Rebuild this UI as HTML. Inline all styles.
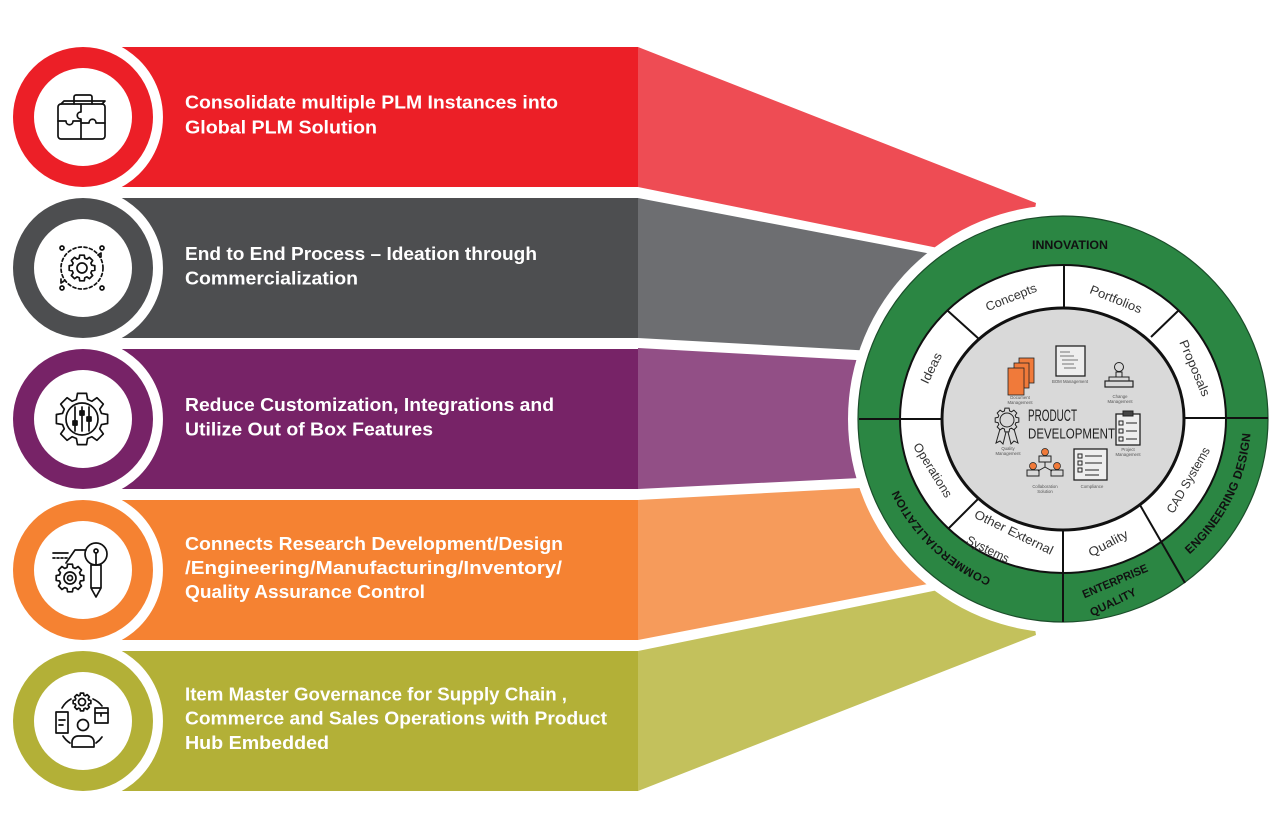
<!DOCTYPE html>
<html><head><meta charset="utf-8"><style>
html,body{margin:0;padding:0;background:#fff;}
svg{display:block;}
.bt{font-family:"Liberation Sans",sans-serif;font-weight:bold;font-size:18px;fill:#fff;}
.wr{font-family:"Liberation Sans",sans-serif;font-size:12.5px;fill:#333;}
.gr{font-family:"Liberation Sans",sans-serif;font-weight:bold;font-size:11.5px;fill:#111;}
.tl{font-family:"Liberation Sans",sans-serif;font-size:4.3px;fill:#555;}
</style></head><body>
<svg width="1280" height="838" viewBox="0 0 1280 838" xmlns="http://www.w3.org/2000/svg">
<defs>
<path id="gear" vector-effect="non-scaling-stroke" d="M0.750,-0.215 L0.985,-0.174 L0.985,0.174 L0.750,0.215 L0.682,0.378 L0.819,0.574 L0.574,0.819 L0.378,0.682 L0.215,0.750 L0.174,0.985 L-0.174,0.985 L-0.215,0.750 L-0.378,0.682 L-0.574,0.819 L-0.819,0.574 L-0.682,0.378 L-0.750,0.215 L-0.985,0.174 L-0.985,-0.174 L-0.750,-0.215 L-0.682,-0.378 L-0.819,-0.574 L-0.574,-0.819 L-0.378,-0.682 L-0.215,-0.750 L-0.174,-0.985 L0.174,-0.985 L0.215,-0.750 L0.378,-0.682 L0.574,-0.819 L0.819,-0.574 L0.682,-0.378 Z"/>
<path id="engPath" d="M1157,577.5 A188,183 0 0 0 1249.2,393.5"/>
<path id="comPath" d="M1031.7,590.4 A180,174 0 0 1 885.7,449.2"/>
</defs>

<!-- light connector shapes -->
<polygon points="638,47 1036,203 1030,240 960,252.5 638,187" fill="#EE4C54"/>
<polygon points="638,198 1000,267 1000,358 638,338" fill="#6D6E71"/>
<polygon points="638,348 1000,368 1000,471 638,489" fill="#924F86"/>
<polygon points="638,500 1000,480.4 1000,570 638,640" fill="#F69B5B"/>
<polygon points="638,791 1036,635 1030,598 960,585.5 638,651" fill="#C3C15C"/>

<!-- dark bands -->
<path d="M121.7,47 L638,47 L638,187 L121.7,187 A80,80 0 0 0 121.7,47 Z" fill="#EC1F27"/>
<path d="M121.7,198 L638,198 L638,338 L121.7,338 A80,80 0 0 0 121.7,198 Z" fill="#4D4E50"/>
<path d="M121.7,349 L638,349 L638,489 L121.7,489 A80,80 0 0 0 121.7,349 Z" fill="#772367"/>
<path d="M121.7,500 L638,500 L638,640 L121.7,640 A80,80 0 0 0 121.7,500 Z" fill="#F58232"/>
<path d="M121.7,651 L638,651 L638,791 L121.7,791 A80,80 0 0 0 121.7,651 Z" fill="#B3B037"/>

<!-- circles -->
<circle cx="83" cy="117" r="70" fill="#EC1F27"/><circle cx="83" cy="117" r="49" fill="#fff"/>
<circle cx="83" cy="268" r="70" fill="#4D4E50"/><circle cx="83" cy="268" r="49" fill="#fff"/>
<circle cx="83" cy="419" r="70" fill="#772367"/><circle cx="83" cy="419" r="49" fill="#fff"/>
<circle cx="83" cy="570" r="70" fill="#F58232"/><circle cx="83" cy="570" r="49" fill="#fff"/>
<circle cx="83" cy="721" r="70" fill="#B3B037"/><circle cx="83" cy="721" r="49" fill="#fff"/>

<!-- icons -->
<g stroke="#111" stroke-width="1.7" fill="none" stroke-linejoin="round" stroke-linecap="round">
 <!-- 1 briefcase puzzle -->
 <path d="M74,104 v-7 a2,2 0 0 1 2,-2 h14 a2,2 0 0 1 2,2 v7"/>
 <rect x="58" y="104" width="47" height="35" rx="3"/>
 <path d="M61,104 l3,-3 h41 l-3,3"/>
 <path d="M81,104 v8 c-5,0 -5,7 0,7 v20"/>
 <path d="M58,121 h8 c0,5 7,5 7,0 h8 M81,123 h8 c0,-5 7,-5 7,0 h9"/>
 <!-- 2 gear cycle -->
 <use href="#gear" transform="translate(82,268) scale(13)"/>
 <circle cx="82" cy="268" r="5"/>
 <circle cx="82" cy="268" r="21" stroke-dasharray="3 2.6"/>
 <path d="M98,255 l3,-2 l0,4 M64,281 l-3,2 l0,-4"/>
 <circle cx="62" cy="248" r="2"/><circle cx="102" cy="248" r="2"/>
 <circle cx="62" cy="288" r="2"/><circle cx="102" cy="288" r="2"/>
 <!-- 3 gear sliders -->
 <use href="#gear" transform="translate(82,419) scale(26)"/>
 <circle cx="82" cy="419" r="16"/>
 <path d="M75,407 v24 M82,407 v24 M89,407 v24"/>
 <rect x="73" y="421" width="4" height="4" fill="#111"/>
 <rect x="80" y="411" width="4" height="4" fill="#111"/>
 <rect x="87" y="417" width="4" height="4" fill="#111"/>
 <!-- 4 gear bulb pen -->
 <use href="#gear" transform="translate(70,578) scale(14)"/>
 <circle cx="70" cy="578" r="6"/><circle cx="70" cy="578" r="2.5"/>
 <circle cx="96" cy="554" r="11"/>
 <circle cx="96" cy="551" r="2"/><path d="M96,553 v11"/>
 <path d="M91,565 V588 L96,597 L101,588 V565 Z M91,588 H101"/>
 <path d="M53,553 H68 M53,558 h2 M57,558 h2 M61,558 h2 M65,558 h2"/>
 <path d="M66,563 L75,550 H86"/>
 <!-- 5 person gear boxes -->
 <use href="#gear" transform="translate(82,702) scale(9)"/>
 <circle cx="82" cy="702" r="3.5"/>
 <circle cx="83" cy="725" r="5.5"/>
 <path d="M72,747 v-5 a6,6 0 0 1 6,-6 h10 a6,6 0 0 1 6,6 v5 Z"/>
 <rect x="56" y="712" width="12" height="21"/>
 <path d="M59,720 h6 M59,725 h4"/>
 <rect x="95" y="708" width="13" height="15"/>
 <path d="M95,713 h13 M101,713 v3"/>
 <path d="M62,708 A22,22 0 0 1 71,699 M93,699 A22,22 0 0 1 102,706 M63,736 A22,22 0 0 0 70,743 M96,743 A22,22 0 0 0 102,737"/>
</g>

<!-- band texts -->
<text class="bt" x="185" y="108.5" textLength="373" lengthAdjust="spacingAndGlyphs">Consolidate multiple PLM Instances into</text>
<text class="bt" x="185" y="133.5" textLength="192" lengthAdjust="spacingAndGlyphs">Global PLM Solution</text>
<text class="bt" x="185" y="260" textLength="352" lengthAdjust="spacingAndGlyphs">End to End Process – Ideation through</text>
<text class="bt" x="185" y="284.5" textLength="173" lengthAdjust="spacingAndGlyphs">Commercialization</text>
<text class="bt" x="185" y="411" textLength="369" lengthAdjust="spacingAndGlyphs">Reduce Customization, Integrations and</text>
<text class="bt" x="185" y="435.5" textLength="248" lengthAdjust="spacingAndGlyphs">Utilize Out of Box Features</text>
<text class="bt" x="185" y="550" textLength="378" lengthAdjust="spacingAndGlyphs">Connects Research Development/Design</text>
<text class="bt" x="185" y="574" textLength="377" lengthAdjust="spacingAndGlyphs">/Engineering/Manufacturing/Inventory/</text>
<text class="bt" x="185" y="598" textLength="240" lengthAdjust="spacingAndGlyphs">Quality Assurance Control</text>
<text class="bt" x="185" y="700.5" textLength="382" lengthAdjust="spacingAndGlyphs">Item Master Governance for Supply Chain ,</text>
<text class="bt" x="185" y="724.5" textLength="422" lengthAdjust="spacingAndGlyphs">Commerce and Sales Operations with Product</text>
<text class="bt" x="185" y="749" textLength="144" lengthAdjust="spacingAndGlyphs">Hub Embedded</text>

<!-- wheel -->
<ellipse cx="1063" cy="419" rx="215" ry="214" fill="#fff"/>
<ellipse cx="1063" cy="419" rx="205" ry="203" fill="#2B8643" stroke="#1b4d2a" stroke-width="1.2"/>
<ellipse cx="1063" cy="419" rx="163" ry="154" fill="#fff" stroke="#111" stroke-width="2"/>
<ellipse cx="1063" cy="419" rx="121" ry="111" fill="#D9D9D9" stroke="#111" stroke-width="3"/>

<g stroke="#111" stroke-width="2">
 <line x1="1064" y1="265" x2="1064" y2="308"/>
 <line x1="979" y1="339" x2="948" y2="311"/>
 <line x1="1151" y1="337" x2="1179" y2="310"/>
 <line x1="859" y1="419" x2="943" y2="419"/>
 <line x1="1183" y1="418" x2="1268" y2="418"/>
 <line x1="1063" y1="529" x2="1063" y2="622"/>
 <line x1="979" y1="498" x2="948" y2="529"/>
 <line x1="1140" y1="505" x2="1185" y2="583"/>
</g>

<!-- white ring labels -->
<g class="wr" text-anchor="middle">
 <text transform="translate(1011,297) rotate(-22)" y="4.5" textLength="54" lengthAdjust="spacingAndGlyphs">Concepts</text>
 <text transform="translate(1116,299) rotate(22)" y="4.5" textLength="55" lengthAdjust="spacingAndGlyphs">Portfolios</text>
 <text transform="translate(1195,368) rotate(67)" y="4.5" textLength="60" lengthAdjust="spacingAndGlyphs">Proposals</text>
 <text transform="translate(931,368) rotate(-64)" y="4.5" textLength="33" lengthAdjust="spacingAndGlyphs">Ideas</text>
 <text transform="translate(933,470) rotate(58)" y="4.5" textLength="62" lengthAdjust="spacingAndGlyphs">Operations</text>
 <text transform="translate(1188,480) rotate(-60)" y="4.5" textLength="74" lengthAdjust="spacingAndGlyphs">CAD Systems</text>
 <text transform="translate(1108,543) rotate(-28)" y="4.5" textLength="43" lengthAdjust="spacingAndGlyphs">Quality</text>
 <text transform="translate(1014,532) rotate(26)" y="4.5" textLength="86" lengthAdjust="spacingAndGlyphs">Other External</text>
 <text transform="translate(988,549) rotate(26)" y="4.5" textLength="46" lengthAdjust="spacingAndGlyphs">Systems</text>
</g>

<!-- green ring labels -->
<text class="gr" x="1070" y="249" text-anchor="middle" textLength="76" lengthAdjust="spacingAndGlyphs">INNOVATION</text>
<text class="gr" style="font-size:12px;letter-spacing:0.3px"><textPath href="#engPath" startOffset="50%" text-anchor="middle">ENGINEERING DESIGN</textPath></text>
<text class="gr" style="letter-spacing:0.4px"><textPath href="#comPath" startOffset="50%" text-anchor="middle">COMMERCIALIZATION</textPath></text>
<text class="gr" transform="translate(1115,581) rotate(-23)" y="4" text-anchor="middle" textLength="70" lengthAdjust="spacingAndGlyphs">ENTERPRISE</text>
<text class="gr" transform="translate(1113,602) rotate(-26)" y="4" text-anchor="middle" textLength="50" lengthAdjust="spacingAndGlyphs">QUALITY</text>

<!-- center icons -->
<g stroke="#222" stroke-width="0.8">
 <rect x="1019" y="358" width="15" height="25" fill="#F07A3A"/>
 <rect x="1014" y="363" width="15" height="25" fill="#F07A3A"/>
 <rect x="1008" y="368" width="16" height="27" fill="#F07A3A"/>
</g>
<g fill="none" stroke="#222" stroke-width="1">
 <rect x="1056" y="346" width="29" height="30" fill="#eee" stroke-width="1.3"/>
 <path d="M1060,352 h10 M1060,356 h14 M1062,360 h16 M1062,364 h12 M1064,368 h12" stroke="#777"/>
 <!-- stamp -->
 <rect x="1105" y="381" width="28" height="6" stroke-width="1.2"/>
 <path d="M1109,381 v-4 h20 v4" />
 <path d="M1116,377 v-5 h6 v5"/>
 <circle cx="1119" cy="367" r="4.5"/>
 <!-- badge -->
 <use href="#gear" transform="translate(1007,420) scale(12)" stroke-width="1"/>
 <circle cx="1007" cy="420" r="7"/>
 <path d="M1000,429 l-4,14 l4,-2 l3,3 l3,-12 M1014,429 l4,14 l-4,-2 l-3,3 l-3,-12"/>
 <!-- clipboard -->
 <rect x="1116" y="414" width="24" height="31" fill="#eee" stroke-width="1.3"/>
 <rect x="1123" y="411" width="10" height="5" fill="#444"/>
 <path d="M1119,421 h4 v4 h-4z M1119,429 h4 v4 h-4z M1119,437 h4 v4 h-4z M1126,423 h11 M1126,431 h11 M1126,439 h11"/>
 <!-- compliance -->
 <rect x="1074" y="449" width="33" height="31" fill="#eee" stroke-width="1.3"/>
 <path d="M1078,454 h4 v4 h-4z M1078,461 h4 v4 h-4z M1078,468 h4 v4 h-4z M1085,456 h17 M1085,463 h17 M1085,470 h14 M1085,475 h14"/>
 <!-- collaboration -->
 <path d="M1045,462 v5 M1045,467 l-7,4 M1045,467 l7,4"/>
 <rect x="1039" y="456" width="12" height="6"/>
 <rect x="1027" y="470" width="12" height="6"/>
 <rect x="1051" y="470" width="12" height="6"/>
</g>
<g fill="#F07A3A" stroke="#222" stroke-width="0.7">
 <circle cx="1045" cy="452" r="3.5"/>
 <circle cx="1033" cy="466" r="3.5"/>
 <circle cx="1057" cy="466" r="3.5"/>
</g>

<text x="1028" y="421" textLength="49" lengthAdjust="spacingAndGlyphs" style="font-family:'Liberation Sans Narrow','Liberation Sans',sans-serif;font-size:17px;fill:#222">PRODUCT</text>
<text x="1028" y="438.5" textLength="87" lengthAdjust="spacingAndGlyphs" style="font-family:'Liberation Sans Narrow','Liberation Sans',sans-serif;font-size:15px;fill:#222">DEVELOPMENT</text>

<g class="tl" text-anchor="middle">
 <text x="1020" y="399">Document</text><text x="1020" y="404">Management</text>
 <text x="1070" y="383">BOM Management</text>
 <text x="1120" y="398">Change</text><text x="1120" y="403">Management</text>
 <text x="1008" y="450">Quality</text><text x="1008" y="455">Management</text>
 <text x="1128" y="451">Project</text><text x="1128" y="456">Management</text>
 <text x="1045" y="488">Collaboration</text><text x="1045" y="493">Solution</text>
 <text x="1092" y="488">Compliance</text>
</g>
</svg>
</body></html>
